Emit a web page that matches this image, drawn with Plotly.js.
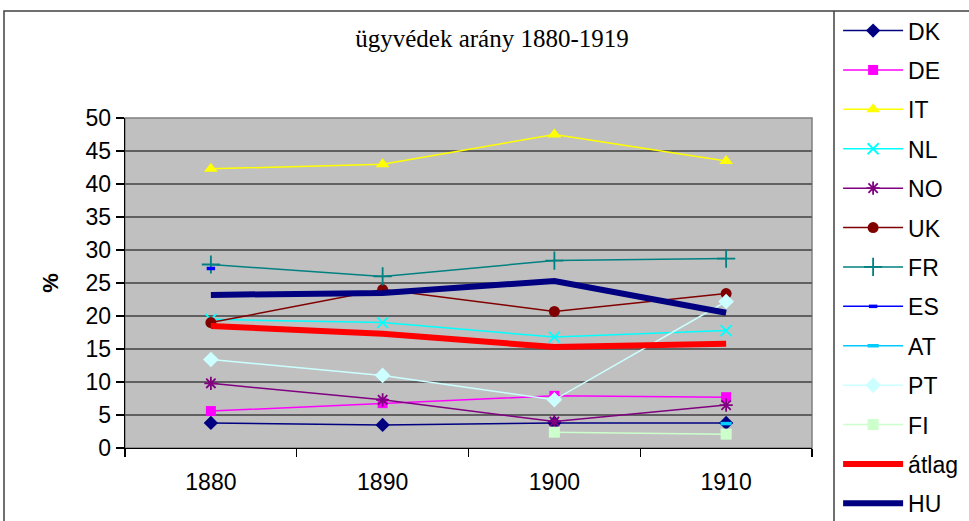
<!DOCTYPE html>
<html>
<head>
<meta charset="utf-8">
<script src="https://cdn.plot.ly/plotly-3.0.1.min.js"></script>
<style>html,body{margin:0;padding:0;background:#fff;}#chart{width:969px;height:521px;}</style>
</head>
<body>
<div id="chart"></div>
<script>
const years = ['1880', '1890', '1900', '1910'];
const DK = [3.8, 3.5, 3.8, 3.8];
const DE = [5.6, 6.8, 7.9, 7.7];
const IT = [42.3, 43.0, 47.5, 43.5];
const NL = [19.5, 19.0, 16.8, 17.8];
const NO = [9.8, 7.3, 4.0, 6.5];
const UK = [19.0, 24.0, 20.7, 23.4];
const FR = [27.8, 26.0, 28.4, 28.7];
const ES = [27.2, null, null, null];
const AT = [null, null, null, 3.7];
const PT = [13.4, 11.0, 7.3, 22.2];
const FI = [null, null, 2.4, 2.1];
const atlag = [18.5, 17.3, 15.3, 15.8];
const HU = [23.2, 23.5, 25.3, 20.5];

const seriesNames = ['DK','DE','IT','NL','NO','UK','FR','ES','AT','PT','FI','átlag','HU'];
const seriesData = [DK, DE, IT, NL, NO, UK, FR, ES, AT, PT, FI, atlag, HU];
const styles = [
  {color:'#000080', symbol:'diamond', size:11, w:1.5},
  {color:'#FF00FF', symbol:'square', size:10, w:1.5},
  {color:'#FFFF00', symbol:'triangle-up', size:12, w:1.5},
  {color:'#00FFFF', symbol:'x-thin-open', size:11, w:1.5, lw:1.8},
  {color:'#800080', symbol:'asterisk-open', size:11, w:1.5, lw:1.8},
  {color:'#800000', symbol:'circle', size:11, w:1.5},
  {color:'#008080', symbol:'cross-thin-open', size:13, w:1.5, lw:1.8},
  {color:'#0000FF', symbol:'line-ew-open', size:6, w:1.5, lw:3.5},
  {color:'#00CCFF', symbol:'line-ew-open', size:8, w:1.5, lw:3.5},
  {color:'#CCFFFF', symbol:'diamond', size:12, w:1.5},
  {color:'#CCFFCC', symbol:'square', size:11, w:1.5},
  {color:'#FF0000', symbol:null, size:0, w:6},
  {color:'#000080', symbol:null, size:0, w:6}
];

const traces = seriesNames.map((n, i) => {
  const s = styles[i];
  const t = {
    x: years, y: seriesData[i], name: n, type: 'scatter',
    legendgroup: 'g' + i,
    mode: s.symbol ? 'lines+markers' : 'lines',
    line: {color: s.color, width: s.w},
    hoverinfo: 'skip'
  };
  if (s.symbol) {
    t.marker = {symbol: s.symbol, size: s.size, color: s.color,
      line: {color: s.color, width: s.lw || 0}};
  }
  return t;
});

const layout = {
  width: 969, height: 521,
  margin: {l: 125, r: 157, t: 118, b: 73, autoexpand: false},
  paper_bgcolor: '#ffffff',
  plot_bgcolor: '#C0C0C0',
  showlegend: true,
  font: {family: 'Liberation Sans, Arial, sans-serif', size: 23, color: '#000'},
  title: {
    text: 'ügyvédek arány 1880-1919',
    font: {family: 'Liberation Serif, Times New Roman, serif', size: 25, color: '#000'},
    x: 492/969, xref: 'container', xanchor: 'center',
    y: 1 - 38/521, yref: 'container', yanchor: 'middle'
  },
  xaxis: {
    type: 'category', range: [-0.5, 3.5], tickson: 'boundaries',
    ticks: 'outside', ticklen: 8, tickcolor: '#000', tickwidth: 1.3,
    showline: true, linecolor: '#000', linewidth: 1.3,
    showgrid: false, zeroline: false, ticklabelstandoff: 13,
    tickfont: {size: 23}
  },
  yaxis: {
    range: [0, 50], dtick: 5, tick0: 0,
    ticks: 'outside', ticklen: 8, tickcolor: '#000', tickwidth: 1.3,
    showline: true, linecolor: '#000', linewidth: 1.3,
    showgrid: true, gridcolor: '#606060', gridwidth: 1.5,
    zeroline: false, tickfont: {size: 23},
    title: {text: '<b>%</b>', font: {size: 22}, standoff: 20}
  },
  legend: {
    x: 1.038, xref: 'paper', xanchor: 'left',
    y: 1.33, yanchor: 'top',
    bgcolor: 'rgba(0,0,0,0)', borderwidth: 0,
    font: {size: 23}, tracegroupgap: 6.5, itemwidth: 60,
    traceorder: 'grouped', maxheight: 800
  },
  shapes: [
    {type: 'rect', xref: 'paper', yref: 'paper', x0: 0, x1: 1, y0: 0, y1: 1,
     line: {color: '#808080', width: 1.5}, layer: 'below'},
    {type: 'rect', xref: 'paper', yref: 'paper',
     x0: (4-125)/687, x1: (980-125)/687, y0: -(530-448)/330, y1: (448-11)/330,
     line: {color: '#404040', width: 1.5}},
    {type: 'line', xref: 'paper', yref: 'paper',
     x0: (834-125)/687, x1: (834-125)/687, y0: -(530-448)/330, y1: (448-11)/330,
     line: {color: '#404040', width: 1.5}}
  ]
};

Plotly.newPlot('chart', traces, layout, {displayModeBar: false, staticPlot: true});
</script>
</body>
</html>
